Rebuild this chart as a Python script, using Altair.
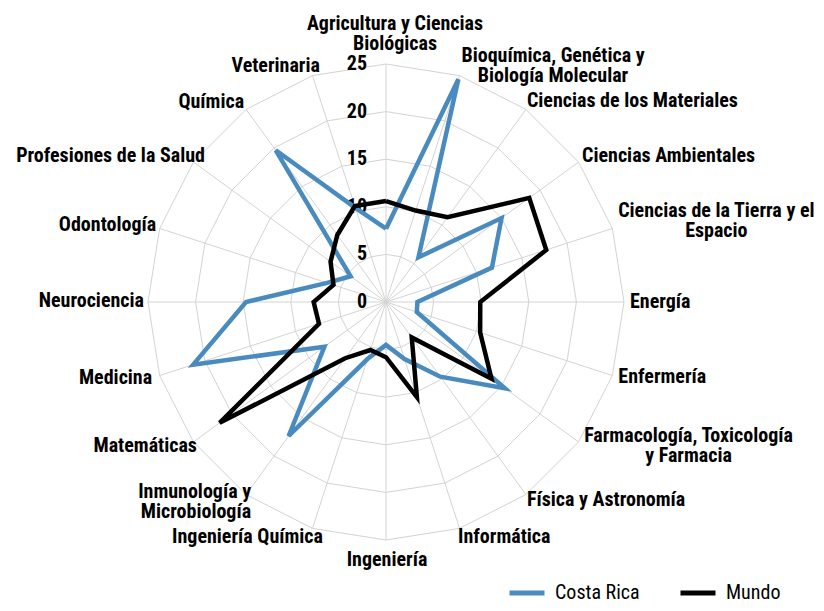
import altair as alt
import pandas as pd

# ---------------- data ----------------
categories = [
    "Agricultura y Ciencias\nBiológicas",
    "Bioquímica, Genética y\nBiología Molecular",
    "Ciencias de los Materiales",
    "Ciencias Ambientales",
    "Ciencias de la Tierra y el\nEspacio",
    "Energía",
    "Enfermería",
    "Farmacología, Toxicología\ny Farmacia",
    "Física y Astronomía",
    "Informática",
    "Ingeniería",
    "Ingeniería Química",
    "Inmunología y\nMicrobiología",
    "Matemáticas",
    "Medicina",
    "Neurociencia",
    "Odontología",
    "Profesiones de la Salud",
    "Química",
    "Veterinaria",
]
costa_rica = [7.7, 24.6, 5.8, 15.0, 11.7, 3.3, 3.4, 15.4, 9.7, 6.3,
              4.5, 6.3, 17.4, 8.0, 21.3, 14.7, 6.5, 4.6, 19.7, 10.4]
mundo = [10.6, 10.1, 11.0, 18.6, 17.7, 9.9, 10.4, 13.7, 4.6, 10.5,
         5.8, 5.3, 7.3, 21.6, 7.4, 7.6, 5.8, 7.2, 8.7, 10.6]
series_names = ["Costa Rica", "Mundo"]
series_colors = ["#4a8bbf", "#000000"]
ring_values = [5, 10, 15, 20, 25]
tick_values = [0, 5, 10, 15, 20, 25]
tick_labels = ["0", "5", "10", "15", "20", "25"]

# ---------------- layout ----------------
FONT = "Liberation Sans Narrow, Arial Narrow, Roboto Condensed, DejaVu Sans Condensed, sans-serif"
W, H = 808, 595
CX, CY = 378, 294
RMAX = 25
K = 238 / RMAX
x_dom = [-CX / K, (W - CX) / K]
y_dom = [-(H - CY) / K, CY / K]
n = len(categories)
GRID = "#d3d3d3"
LH = 20

# label layout per spoke: (align, dx, dy)  -- dy is for the first line
LABEL_LAYOUT = [
    ("center", 9, -40),
    ("center", 93.5, -20),
    ("left", 1, -8.5),
    ("left", 3.5, -6),
    ("center", 104, -17),
    ("left", 6, 0),
    ("left", 6, 1.5),
    ("center", 110, -5.5),
    ("left", 1, 5.5),
    ("left", -1.5, 9),
    ("center", 1, 20),
    ("right", 10.5, 9),
    ("right", 5, -3),
    ("right", 3.5, 4),
    ("right", -7.5, 2.5),
    ("right", -4, -1),
    ("right", -3.5, -3.5),
    ("right", 11.5, -6),
    ("right", -2, -7.5),
    ("right", 7.5, -9.5),
]

# ---------------- tables ----------------
rows = []
for name, vals in zip(series_names, [costa_rica, mundo]):
    for i in range(n + 1):
        rows.append({"serie": name, "idx": i, "valor": vals[i % n]})
series_df = pd.DataFrame(rows)

ring_df = pd.DataFrame([{"ring": r, "idx": i} for r in ring_values for i in range(n + 1)])
spoke_df = pd.DataFrame({"idx": list(range(n)), "r": [RMAX] * n})
tick_df = pd.DataFrame({"v": tick_values, "lab": tick_labels})
label_df = pd.DataFrame({"idx": list(range(n)), "cat": categories})

ANG = f"datum.idx * 2 * PI / {n}"
xs = alt.Scale(domain=x_dom, nice=False, zero=False)
ys = alt.Scale(domain=y_dom, nice=False, zero=False)


def X(field):
    return alt.X(field, type="quantitative", scale=xs, axis=None)


def Y(field):
    return alt.Y(field, type="quantitative", scale=ys, axis=None)


rings = alt.Chart(ring_df).transform_calculate(
    px=f"datum.ring * sin({ANG})", py=f"datum.ring * cos({ANG})"
).mark_line(stroke=GRID, strokeWidth=1).encode(
    x=X("px"), y=Y("py"), detail="ring:N", order="idx:Q"
)

spokes = alt.Chart(spoke_df).transform_calculate(
    z="0", ex=f"datum.r * sin({ANG})", ey=f"datum.r * cos({ANG})"
).mark_rule(stroke=GRID, strokeWidth=1).encode(
    x=X("z"), y=Y("z"), x2="ex:Q", y2="ey:Q"
)

ticks = alt.Chart(tick_df).transform_calculate(z="0").mark_text(
    align="right", baseline="middle", dx=-19, fontSize=20, fontWeight="bold",
    font=FONT, color="black"
).encode(x=X("z"), y=Y("v"), text="lab:N")

lines = alt.Chart(series_df).transform_calculate(
    px=f"datum.valor * sin({ANG})", py=f"datum.valor * cos({ANG})"
).mark_line(strokeWidth=4.5, strokeJoin="miter").encode(
    x=X("px"), y=Y("py"),
    color=alt.Color(
        "serie:N",
        scale=alt.Scale(domain=series_names, range=series_colors),
        legend=alt.Legend(
            orient="none", legendX=499, legendY=565, direction="horizontal",
            title=None, symbolType="stroke", symbolStrokeWidth=5,
            symbolSize=1225, labelFontSize=20, labelFont=FONT,
            labelColor="black", columnPadding=30, labelOffset=8, padding=0,
        ),
    ),
    order="idx:Q",
)

label_layers = []
for i, (al, dx, dy) in enumerate(LABEL_LAYOUT):
    label_layers.append(
        alt.Chart(label_df).transform_filter(f"datum.idx == {i}").transform_calculate(
            px=f"{RMAX} * sin({ANG})", py=f"{RMAX} * cos({ANG})"
        ).mark_text(
            align=al, baseline="middle", dx=dx, dy=dy, fontSize=20,
            fontWeight="bold", font=FONT, lineBreak="\n", lineHeight=LH,
            color="black"
        ).encode(x=X("px"), y=Y("py"), text="cat:N")
    )

chart = alt.layer(rings, spokes, ticks, lines, *label_layers).properties(
    width=W, height=H, autosize=alt.AutoSizeParams(type="none"), padding=0,
    background="white"
).configure_view(stroke=None)

chart.save("out.html", embed_options={"renderer": "svg", "actions": False})
